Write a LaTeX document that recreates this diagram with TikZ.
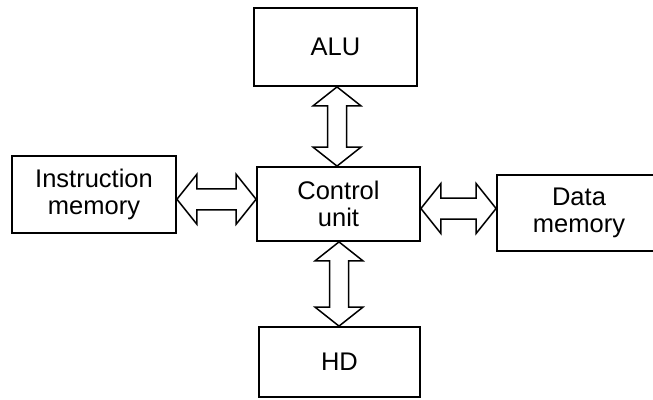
\documentclass[tikz,border=0pt]{standalone}
\usepackage{fontspec}
\setmainfont{Liberation Sans}
\usetikzlibrary{calc}
\tikzset{
  blk/.style={draw, line width=1.8pt, inner sep=0pt, align=center,
    font=\fontsize{25.5}{27}\selectfont},
  dblarr/.style={draw, line width=1.5pt, line join=miter, fill=white},
}
% vertical hollow double arrow between #1 (upper) and #2 (lower)
\newcommand\vdarrow[2]{%
  \path[dblarr] let \p1=(#1), \p2=(#2), \p3=($(#1)!0.5!(#2)$) in
    (\x3,\y1) -- (\x3+24pt,\y1-19pt) -- (\x3+9.5pt,\y1-19pt) --
    (\x3+9.5pt,\y2+19pt) -- (\x3+24pt,\y2+19pt) -- (\x3,\y2) --
    (\x3-24pt,\y2+19pt) -- (\x3-9.5pt,\y2+19pt) --
    (\x3-9.5pt,\y1-19pt) -- (\x3-24pt,\y1-19pt) -- cycle;}
% horizontal hollow double arrow between #1 (left) and #2 (right)
\newcommand\hdarrow[2]{%
  \path[dblarr] let \p1=(#1), \p2=(#2), \p3=($(#1)!0.5!(#2)$) in
    (\x1,\y3) -- (\x1+20pt,\y3+25pt) -- (\x1+20pt,\y3+10.5pt) --
    (\x2-20pt,\y3+10.5pt) -- (\x2-20pt,\y3+25pt) -- (\x2,\y3) --
    (\x2-20pt,\y3-25pt) -- (\x2-20pt,\y3-10.5pt) --
    (\x1+20pt,\y3-10.5pt) -- (\x1+20pt,\y3-25pt) -- cycle;}
\begin{document}
\begin{tikzpicture}[x=1pt,y=-1pt]
  \useasboundingbox (0,0) rectangle (653,399);
  \clip (0,0) rectangle (653,399);
  \node[blk, minimum width=163pt, minimum height=78pt] (alu) at (335.5,47) {ALU};
  \node[blk, minimum width=163pt, minimum height=74pt] (cu) at (338.5,204) {Control\\unit};
  \node[blk, minimum width=164pt, minimum height=77pt] (im) at (94,194.5) {Instruction\\memory};
  \node[blk, minimum width=164pt, minimum height=76pt] (dm) at (579,213) {Data\\memory};
  \node[blk, minimum width=161pt, minimum height=70pt] (hd) at (339.5,362) {HD};
  \vdarrow{alu.south}{cu.north}
  \vdarrow{cu.south}{hd.north}
  \hdarrow{im.east}{cu.west}
  \hdarrow{cu.east}{dm.west}
\end{tikzpicture}
\end{document}
